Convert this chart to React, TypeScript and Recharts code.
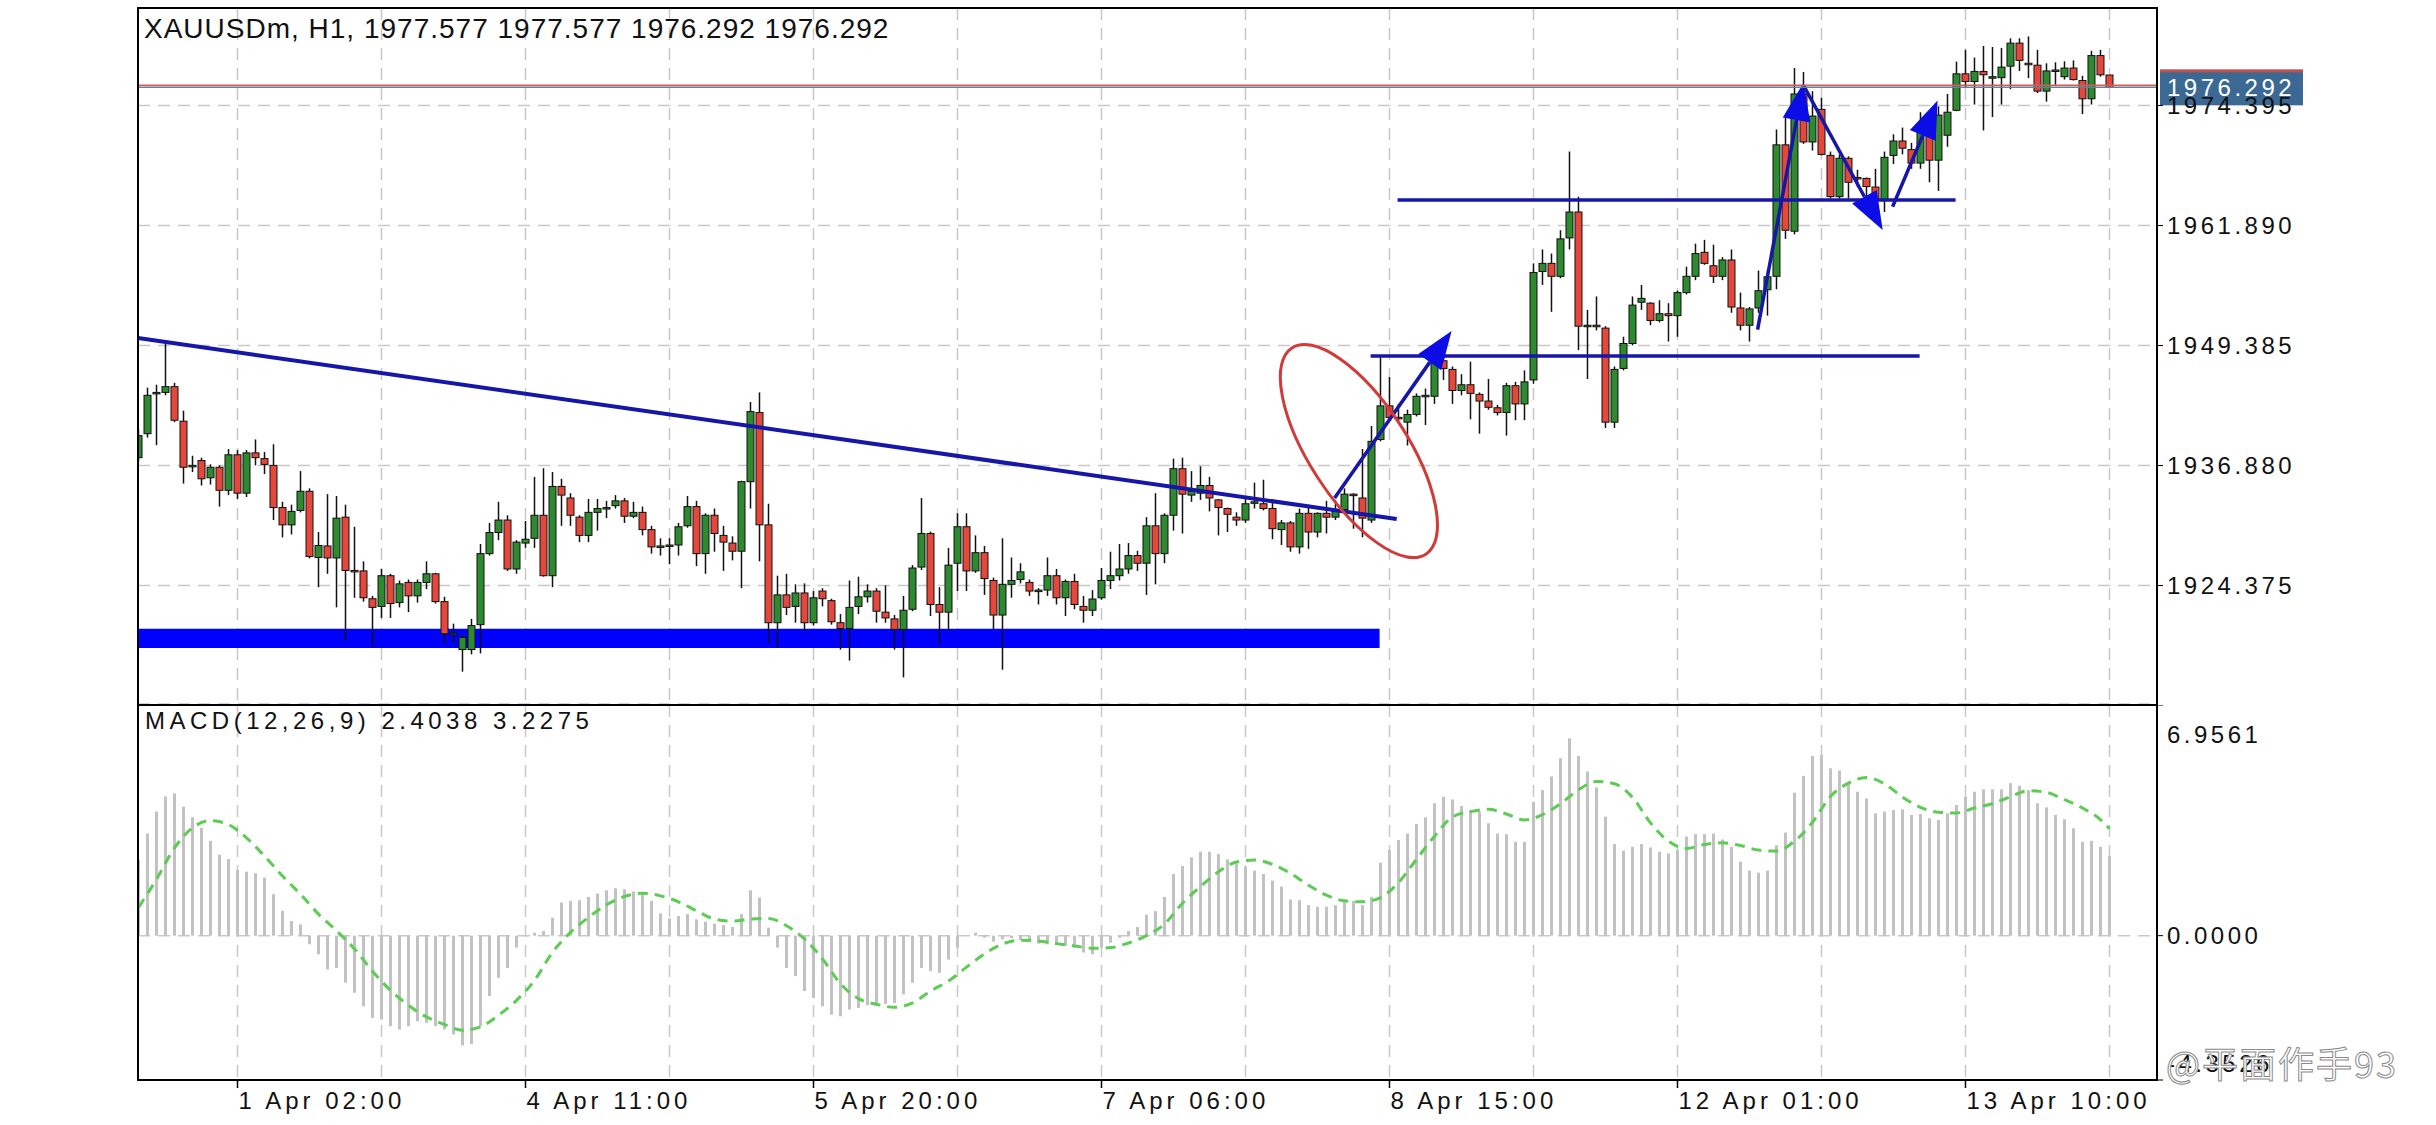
import React from 'react';
import {
  ComposedChart, Bar, Line, XAxis, YAxis, CartesianGrid,
  ReferenceLine, ReferenceArea, ReferenceDot,
} from 'recharts';

const FONT = '"Liberation Sans", Arial, sans-serif';

// XAUUSDm H1 candles (oldest first)
const opens = [
  1937.7, 1940.2, 1944.4, 1944.5, 1945.1, 1941.5, 1936.8, 1937.4, 1935.6, 1936.7,
  1934.3, 1938.0, 1934.0, 1938.2, 1937.6, 1936.9, 1932.5, 1930.7, 1932.2, 1934.2,
  1927.3, 1928.5, 1927.25, 1931.5, 1925.95, 1925.9, 1923.0, 1922.2, 1925.4, 1922.6,
  1924.7, 1923.3, 1924.7, 1925.6, 1922.7, 1919.3, 1917.7, 1917.7, 1920.3, 1927.7,
  1929.9, 1931.2, 1926.1, 1928.8, 1929.3, 1931.7, 1925.4, 1934.7, 1933.5, 1931.5,
  1929.6, 1932.0, 1932.5, 1932.7, 1933.2, 1931.6, 1932.0, 1930.2, 1928.5, 1928.5,
  1928.6, 1930.6, 1932.6, 1927.7, 1931.7, 1929.6, 1928.8, 1927.95, 1935.2, 1942.4,
  1930.7, 1920.5, 1923.4, 1922.2, 1923.6, 1920.5, 1923.8, 1922.8, 1920.5, 1919.9,
  1922.2, 1923.2, 1923.8, 1921.6, 1920.9, 1919.8, 1921.9, 1926.3, 1929.8, 1922.4,
  1921.6, 1926.7, 1930.5, 1925.9, 1927.8, 1924.9, 1921.3, 1924.5, 1925.0, 1924.7,
  1923.9, 1923.9, 1925.4, 1923.1, 1924.8, 1922.2, 1921.8, 1923.1, 1924.9, 1925.4,
  1926.1, 1927.5, 1926.7, 1930.6, 1927.7, 1931.7, 1936.55, 1933.8, 1934.0, 1934.8,
  1933.3, 1932.4, 1931.5, 1931.2, 1933.0, 1932.9, 1932.4, 1930.2, 1930.9, 1928.4,
  1931.9, 1929.95, 1931.9, 1931.5, 1932.3, 1933.9, 1933.5, 1931.2, 1939.6, 1943.1,
  1941.9, 1941.4, 1942.2, 1944.2, 1944.1, 1947.8, 1946.9, 1944.7, 1945.3, 1944.3,
  1943.6, 1942.9, 1942.4, 1945.2, 1943.3, 1945.8, 1957.1, 1957.95, 1956.6, 1960.6,
  1963.3, 1951.4, 1951.5, 1951.2, 1941.4, 1947.0, 1949.6, 1953.9, 1953.8, 1952.0,
  1952.7, 1952.5, 1954.9, 1956.6, 1959.1, 1957.7, 1956.6, 1958.3, 1953.3, 1951.5,
  1953.3, 1955.2, 1956.6, 1970.3, 1961.3, 1975.6, 1970.6, 1974.0, 1969.2, 1964.9,
  1968.9, 1966.9, 1966.8, 1965.9, 1964.55, 1969.2, 1970.7, 1969.8, 1968.4, 1972.1,
  1968.7, 1971.3, 1973.9, 1977.7, 1976.9, 1977.95, 1977.4, 1977.3, 1978.5, 1980.9,
  1978.8, 1978.6, 1975.9, 1978.0, 1977.4, 1978.3, 1977.0, 1975.1, 1979.6, 1977.577,
];

const highs = [
  1940.6, 1945.0, 1945.3, 1949.8, 1945.5, 1942.6, 1937.9, 1937.7, 1937.0, 1936.9,
  1938.6, 1938.5, 1938.5, 1939.6, 1938.3, 1939.1, 1933.1, 1932.8, 1936.3, 1934.5,
  1929.95, 1933.9, 1933.7, 1932.8, 1930.5, 1926.9, 1923.3, 1926.1, 1925.6, 1924.9,
  1925.0, 1925.0, 1926.9, 1925.7, 1923.2, 1920.4, 1919.3, 1920.9, 1928.7, 1930.9,
  1933.1, 1931.7, 1929.1, 1931.1, 1935.7, 1936.6, 1936.2, 1935.5, 1934.0, 1931.7,
  1933.4, 1933.4, 1933.2, 1933.8, 1933.5, 1933.1, 1932.6, 1930.6, 1929.3, 1929.3,
  1930.9, 1933.7, 1933.2, 1931.9, 1932.4, 1930.6, 1929.5, 1935.3, 1943.5, 1944.5,
  1932.9, 1925.4, 1925.6, 1924.5, 1924.6, 1923.8, 1924.1, 1923.0, 1921.4, 1924.9,
  1925.3, 1924.5, 1924.1, 1924.4, 1921.3, 1923.3, 1926.5, 1933.5, 1930.0, 1924.2,
  1928.3, 1931.9, 1931.9, 1929.6, 1928.5, 1925.2, 1929.3, 1927.3, 1926.7, 1925.0,
  1924.1, 1927.3, 1926.1, 1925.0, 1925.6, 1923.3, 1923.9, 1926.2, 1927.9, 1928.7,
  1928.8, 1928.0, 1931.5, 1934.0, 1931.9, 1937.6, 1937.7, 1936.3, 1936.8, 1935.7,
  1933.4, 1932.5, 1932.0, 1933.4, 1935.1, 1935.4, 1933.1, 1931.2, 1931.1, 1932.4,
  1932.8, 1932.0, 1933.2, 1933.3, 1934.5, 1934.0, 1938.6, 1941.0, 1948.2, 1946.1,
  1943.3, 1942.7, 1944.4, 1944.9, 1948.3, 1948.3, 1947.2, 1946.4, 1947.7, 1944.5,
  1945.9, 1943.2, 1945.5, 1945.6, 1946.8, 1957.95, 1959.4, 1958.97, 1961.4, 1969.6,
  1964.9, 1953.1, 1954.5, 1951.4, 1947.2, 1950.3, 1954.5, 1955.7, 1953.9, 1954.1,
  1953.8, 1955.1, 1957.6, 1960.0, 1960.4, 1959.9, 1958.6, 1959.4, 1954.9, 1953.4,
  1957.2, 1957.2, 1971.9, 1973.1, 1978.3, 1977.9, 1975.9, 1975.2, 1969.6, 1969.3,
  1969.1, 1967.7, 1966.9, 1967.8, 1969.6, 1971.4, 1972.1, 1970.5, 1973.7, 1973.5,
  1974.3, 1975.6, 1978.97, 1980.2, 1979.4, 1980.6, 1980.5, 1980.4, 1981.4, 1981.4,
  1981.6, 1980.2, 1978.8, 1978.9, 1979.0, 1979.1, 1977.5, 1980.1, 1980.2, 1977.577,
];

const lows = [
  1937.3, 1939.8, 1939.0, 1944.2, 1941.4, 1935.0, 1936.2, 1934.8, 1934.9, 1932.6,
  1933.8, 1933.4, 1933.6, 1936.9, 1936.0, 1931.2, 1929.4, 1929.7, 1932.0, 1927.2,
  1924.2, 1925.6, 1922.1, 1918.6, 1923.1, 1922.7, 1917.95, 1921.0, 1921.0, 1922.1,
  1921.6, 1922.6, 1924.0, 1922.5, 1918.4, 1918.4, 1915.4, 1917.2, 1917.3, 1927.5,
  1929.1, 1925.9, 1925.6, 1928.3, 1928.3, 1925.3, 1924.2, 1930.6, 1930.6, 1928.9,
  1928.9, 1930.1, 1931.4, 1932.4, 1930.9, 1931.4, 1929.6, 1927.7, 1927.5, 1926.6,
  1927.5, 1930.4, 1926.4, 1925.6, 1927.9, 1925.9, 1927.0, 1924.1, 1932.4, 1926.9,
  1918.4, 1917.95, 1921.3, 1920.5, 1919.6, 1920.2, 1922.2, 1920.3, 1917.7, 1916.55,
  1921.4, 1922.6, 1920.5, 1920.5, 1917.7, 1914.8, 1921.7, 1926.0, 1921.2, 1918.2,
  1919.6, 1923.8, 1923.8, 1925.7, 1923.4, 1919.8, 1915.6, 1923.1, 1924.6, 1923.3,
  1922.4, 1923.3, 1922.4, 1921.2, 1921.9, 1920.5, 1921.2, 1922.9, 1924.0, 1924.9,
  1925.6, 1925.9, 1923.4, 1924.5, 1926.7, 1930.1, 1929.8, 1933.1, 1933.3, 1932.1,
  1929.6, 1929.95, 1930.6, 1930.9, 1932.4, 1932.2, 1929.2, 1928.6, 1927.9, 1927.7,
  1928.2, 1929.4, 1929.8, 1931.2, 1932.2, 1930.3, 1929.4, 1930.9, 1939.4, 1941.7,
  1941.5, 1938.97, 1942.0, 1941.1, 1943.3, 1945.8, 1943.3, 1944.2, 1941.7, 1940.2,
  1942.7, 1942.1, 1940.0, 1941.6, 1941.6, 1945.4, 1955.7, 1952.9, 1956.4, 1959.4,
  1948.9, 1945.9, 1950.97, 1940.8, 1940.8, 1946.8, 1949.4, 1953.1, 1951.5, 1951.8,
  1949.8, 1950.3, 1954.7, 1956.2, 1957.8, 1955.9, 1956.2, 1952.8, 1950.97, 1949.8,
  1952.8, 1952.5, 1955.25, 1960.5, 1960.97, 1970.4, 1969.7, 1969.2, 1964.7, 1964.7,
  1964.7, 1965.9, 1964.9, 1964.2, 1963.3, 1968.3, 1969.3, 1967.8, 1967.8, 1966.4,
  1965.5, 1970.1, 1973.8, 1976.3, 1974.5, 1971.8, 1973.2, 1974.5, 1976.1, 1978.0,
  1977.25, 1975.7, 1974.8, 1976.55, 1977.1, 1977.0, 1973.5, 1974.5, 1977.4, 1976.292,
];

const closes = [
  1940.0, 1944.2, 1944.5, 1945.1, 1941.6, 1936.7, 1936.9, 1935.5, 1936.7, 1934.3,
  1938.0, 1934.0, 1938.2, 1937.7, 1937.0, 1932.5, 1930.7, 1932.1, 1934.2, 1927.4,
  1928.55, 1927.25, 1931.4, 1925.95, 1925.9, 1923.1, 1922.1, 1925.4, 1922.5, 1924.55,
  1923.3, 1924.7, 1925.6, 1922.7, 1919.35, 1919.4, 1918.97, 1920.2, 1927.7, 1929.9,
  1931.2, 1926.1, 1928.9, 1929.2, 1931.7, 1925.4, 1934.7, 1933.8, 1931.7, 1929.6,
  1932.0, 1932.4, 1932.5, 1933.2, 1931.6, 1932.0, 1930.2, 1928.4, 1928.5, 1928.6,
  1930.5, 1932.6, 1927.7, 1931.7, 1929.8, 1928.9, 1927.95, 1935.2, 1942.5, 1930.7,
  1920.5, 1923.4, 1922.1, 1923.6, 1920.5, 1923.1, 1923.0, 1920.6, 1919.9, 1922.1,
  1923.2, 1923.8, 1921.7, 1921.0, 1919.8, 1921.8, 1926.2, 1929.8, 1922.4, 1921.6,
  1926.5, 1930.5, 1925.9, 1927.8, 1925.1, 1921.3, 1924.5, 1924.9, 1925.8, 1923.8,
  1923.9, 1925.4, 1923.1, 1924.8, 1922.4, 1921.8, 1922.97, 1924.9, 1925.4, 1926.1,
  1927.5, 1926.7, 1930.6, 1927.7, 1931.7, 1936.55, 1933.9, 1934.2, 1934.8, 1933.5,
  1932.5, 1931.8, 1931.2, 1932.9, 1933.1, 1932.4, 1930.3, 1930.9, 1928.4, 1931.9,
  1929.95, 1931.9, 1931.5, 1932.1, 1933.9, 1933.8, 1931.4, 1939.4, 1943.1, 1941.9,
  1941.8, 1942.2, 1944.1, 1944.2, 1947.8, 1947.0, 1944.7, 1945.3, 1944.4, 1943.6,
  1942.95, 1942.4, 1945.2, 1943.3, 1945.6, 1957.0, 1957.95, 1956.6, 1960.5, 1963.3,
  1951.4, 1951.5, 1951.4, 1941.4, 1946.9, 1949.6, 1953.6, 1954.3, 1952.0, 1952.7,
  1952.5, 1954.9, 1956.6, 1958.97, 1957.95, 1956.6, 1958.3, 1953.4, 1951.5, 1953.2,
  1955.1, 1956.55, 1970.3, 1961.4, 1975.6, 1970.6, 1973.3, 1969.3, 1964.9, 1968.9,
  1966.4, 1966.8, 1965.95, 1964.7, 1969.0, 1970.7, 1969.95, 1968.4, 1972.1, 1968.7,
  1973.4, 1973.7, 1977.7, 1976.9, 1977.95, 1977.6, 1977.4, 1978.4, 1980.9, 1979.1,
  1978.7, 1975.9, 1978.0, 1978.1, 1978.3, 1977.1, 1975.1, 1979.6, 1977.6, 1976.292,
];

// MACD(12,26,9) histogram (main line), one value per bar
const macdHist = [
  2.28, 3.08, 3.74, 4.2, 4.29, 3.89, 3.57, 3.25, 2.86, 2.44,
  2.31, 1.98, 1.93, 1.88, 1.75, 1.25, 0.75, 0.44, 0.34, -0.26,
  -0.56, -1.02, -0.97, -1.42, -1.72, -2.13, -2.48, -2.53, -2.73, -2.83,
  -2.73, -2.58, -2.63, -2.73, -2.83, -2.98, -3.31, -3.27, -2.73, -1.82,
  -1.27, -0.97, -0.36, -0.01, 0.09, 0.14, 0.54, 1.0, 1.05, 1.07,
  1.17, 1.27, 1.37, 1.43, 1.4, 1.33, 1.25, 1.05, 0.67, 0.52,
  0.59, 0.65, 0.49, 0.42, 0.36, 0.32, 0.26, 0.65, 1.37, 1.15,
  0.24, -0.36, -0.97, -1.22, -1.67, -1.88, -2.13, -2.38, -2.43, -2.23,
  -2.18, -2.1, -2.1, -2.06, -2.03, -1.77, -1.42, -0.97, -1.07, -1.12,
  -0.72, -0.36, 0.0, 0.09, -0.06, -0.18, -0.11, -0.08, -0.14, -0.18,
  -0.24, -0.26, -0.28, -0.31, -0.36, -0.51, -0.56, -0.36, -0.21, -0.06,
  0.14, 0.26, 0.63, 0.74, 1.17, 1.86, 2.1, 2.36, 2.53, 2.53,
  2.46, 2.3, 2.18, 2.08, 1.96, 1.86, 1.66, 1.48, 1.09, 1.07,
  0.92, 0.87, 0.87, 0.92, 1.02, 1.05, 0.92, 1.17, 2.2, 2.58,
  2.88, 3.08, 3.37, 3.57, 3.99, 4.19, 4.11, 3.91, 3.79, 3.74,
  3.39, 3.08, 3.06, 2.83, 2.83, 4.04, 4.39, 4.8, 5.35, 5.95,
  5.42, 4.95, 4.47, 3.59, 2.76, 2.56, 2.68, 2.76, 2.66, 2.53,
  2.48, 2.58, 2.99, 3.06, 3.06, 3.08, 2.9, 2.68, 2.23, 1.96,
  1.9, 1.96, 2.73, 3.11, 4.31, 4.82, 5.42, 5.45, 5.05, 4.98,
  4.64, 4.34, 4.14, 3.69, 3.74, 3.79, 3.81, 3.64, 3.67, 3.54,
  3.49, 3.69, 3.94, 4.19, 4.34, 4.41, 4.41, 4.41, 4.6, 4.52,
  4.39, 3.99, 3.87, 3.64, 3.51, 3.24, 2.83, 2.86, 2.68, 2.4038,
];

// signal line, sampled from the dashed curve at these bars
const signalBars = [
  0, 2, 4, 6, 8, 10, 12, 14, 16, 18, 20, 22, 24, 26, 28, 30, 32, 34, 36, 38,
  40, 42, 44, 46, 48, 50, 52, 54, 56, 58, 60, 62, 64, 66, 68, 70, 72, 74, 76, 78,
  80, 82, 84, 86, 88, 90, 92, 94, 96, 98, 100, 102, 104, 106, 108, 110, 112, 114, 116, 118,
  120, 122, 124, 126, 128, 130, 132, 134, 136, 138, 140, 142, 144, 146, 148, 150, 152, 154, 156, 158,
  160, 162, 164, 166, 168, 170, 172, 174, 176, 178, 180, 182, 184, 186, 188, 190, 192, 194, 196, 198,
  200, 202, 204, 206, 208, 210, 212, 214, 216, 218, 219,
];
const signalValues = [
  0.85, 1.7, 2.65, 3.25, 3.47, 3.35, 2.95, 2.4, 1.8, 1.25, 0.65, 0.15, -0.4, -1.07, -1.65, -2.1, -2.45, -2.68, -2.85, -2.75,
  -2.4, -1.95, -1.35, -0.5, 0.1, 0.55, 0.93, 1.18, 1.28, 1.2, 1.02, 0.75, 0.5, 0.44, 0.5, 0.52, 0.3, -0.1, -0.7, -1.45,
  -1.9, -2.07, -2.16, -2.03, -1.67, -1.37, -0.95, -0.55, -0.25, -0.14, -0.16, -0.24, -0.31, -0.38, -0.36, -0.22, 0.0, 0.35, 0.98, 1.48,
  1.93, 2.22, 2.28, 2.15, 1.88, 1.52, 1.22, 1.05, 1.02, 1.15, 1.6, 2.3, 3.0, 3.58, 3.74, 3.81, 3.67, 3.49, 3.65, 3.98,
  4.4, 4.65, 4.58, 4.17, 3.4, 2.85, 2.63, 2.75, 2.8, 2.72, 2.58, 2.55, 2.85, 3.42, 4.2, 4.6, 4.77, 4.58, 4.18, 3.87,
  3.72, 3.7, 3.85, 3.98, 4.19, 4.37, 4.32, 4.1, 3.85, 3.5, 3.2275,
];

const priceTicks = [1924.375, 1936.88, 1949.385, 1961.89, 1974.395];
const macdTicks = [-4.3526, 0, 6.9561];
const gridBars = [11, 27, 43, 59, 75, 91, 107, 123, 139, 155, 171, 187, 203, 219];
const timeBars = [11, 43, 75, 107, 139, 171, 203];
const timeLabels = ['1 Apr 02:00', '4 Apr 11:00', '5 Apr 20:00', '7 Apr 06:00', '8 Apr 15:00', '12 Apr 01:00', '13 Apr 10:00'];

const askPrice = 1976.52;

const data = opens.map((o, i) => {
  const k = signalBars.indexOf(i);
  return {
    i, o, h: highs[i], l: lows[i], c: closes[i],
    range: [lows[i], highs[i]],
    hist: macdHist[i],
    sig: k >= 0 ? signalValues[k] : null,
  };
});

const X_DOMAIN: [number, number] = [-0.056, 224.28];
const LINE_BLUE = '#1616a8';
const HEAD_BLUE = '#0c0ce6';

const Candle = (props: any) => {
  const { x, y, width, height, payload } = props;
  if (!payload || x == null || y == null) return <g />;
  const { o, h, l, c } = payload;
  const k = height / Math.max(h - l, 1e-6);
  const py = (v: number) => y + (h - v) * k;
  const cx = x + width / 2;
  const top = py(Math.max(o, c));
  const bh = Math.max(py(Math.min(o, c)) - top, 1.5);
  return (
    <g>
      <line x1={cx} x2={cx} y1={y} y2={y + height} stroke="#111" strokeWidth={1.5} />
      <rect x={cx - 3.5} y={top} width={7} height={bh}
        fill={c >= o ? '#2e8a2e' : '#e5483a'} stroke="#111" strokeWidth={1} />
    </g>
  );
};

const Arrow = (props: any) => {
  const { x1, y1, x2, y2 } = props;
  if ([x1, y1, x2, y2].some((v) => v == null || Number.isNaN(v))) return <g />;
  const a = Math.atan2(y2 - y1, x2 - x1);
  const len = 38;
  const hw = 14;
  const bx = x2 - len * Math.cos(a);
  const by = y2 - len * Math.sin(a);
  const nx = -Math.sin(a) * hw;
  const ny = Math.cos(a) * hw;
  return (
    <g>
      <line x1={x1} y1={y1} x2={bx} y2={by} stroke={LINE_BLUE} strokeWidth={3.5} />
      <polygon points={`${x2},${y2} ${bx + nx},${by + ny} ${bx - nx},${by - ny}`} fill={HEAD_BLUE} />
    </g>
  );
};

const PriceTag = (props: any) => {
  const vb = props.viewBox;
  if (!vb) return <g />;
  const x = vb.x + vb.width + 3;
  const y = vb.y;
  return (
    <g>
      <rect x={x} y={y - 17} width={143} height={35} fill="#3c6994" />
      <rect x={x} y={y - 18} width={143} height={3} fill="#c0504d" />
      <text x={x + 7} y={y} dy="0.36em" fill="#fff" fontSize={24} letterSpacing={3.5} fontFamily={FONT}>
        {props.price.toFixed(3)}
      </text>
    </g>
  );
};

const PriceTick = (p: any) => (
  <text x={p.x} y={p.y} dy="0.36em" fontSize={24} letterSpacing={3.5} fill="#111" fontFamily={FONT}>
    {p.payload.value.toFixed(3)}
  </text>
);

const MacdTick = (p: any) => {
  const v = p.payload.value;
  const shift = v > 6 ? 20 : v < -4 ? -17 : 0;
  return (
    <text x={p.x} y={p.y + shift} dy="0.36em" fontSize={24} letterSpacing={3.5} fill="#111" fontFamily={FONT}>
      {v.toFixed(4)}
    </text>
  );
};

const TimeTick = (p: any) => {
  const k = timeBars.indexOf(p.payload.value);
  if (k < 0) return <g />;
  return (
    <g>
      <line x1={p.x} x2={p.x} y1={p.y} y2={p.y + 8} stroke="#000" strokeWidth={1.5} />
      <text x={p.x + 1} y={p.y + 29} fontSize={24} letterSpacing={4} fill="#111" fontFamily={FONT}>
        {timeLabels[k]}
      </text>
    </g>
  );
};

export default function App() {
  const last = closes[closes.length - 1];
  return (
    <div style={{ position: 'absolute', left: 0, top: 0, width: 2436, height: 1125, background: '#fff', overflow: 'hidden', fontFamily: FONT }}>
      <div style={{ position: 'absolute', left: 0, top: 0 }}>
        <ComposedChart width={2436} height={704} data={data} margin={{ top: 8, right: 0, bottom: 0, left: 138 }}>
          <CartesianGrid stroke="#c8c8c8" strokeDasharray="12 8" strokeWidth={1.5} />
          <XAxis type="number" dataKey="i" domain={X_DOMAIN} allowDataOverflow ticks={gridBars} hide />
          <YAxis orientation="right" width={279} domain={[1912.03, 1984.56]} allowDataOverflow
            ticks={priceTicks} tick={<PriceTick />} tickSize={6} tickMargin={4}
            tickLine={{ stroke: '#000' }} axisLine={false} />
          <ReferenceArea x1={-0.056} x2={137.9} y1={1917.86} y2={1919.88} fill="#0000ff" fillOpacity={1} stroke="none" />
          <Bar dataKey="range" barSize={7} shape={<Candle />} isAnimationActive={false} />
          <ReferenceLine segment={[{ x: -0.056, y: 1950.17 }, { x: 139.8, y: 1931.3 }]} stroke={LINE_BLUE} strokeWidth={4} />
          <ReferenceLine segment={[{ x: 136.9, y: 1948.29 }, { x: 197.9, y: 1948.29 }]} stroke={LINE_BLUE} strokeWidth={3.5} />
          <ReferenceLine segment={[{ x: 139.9, y: 1964.55 }, { x: 201.9, y: 1964.55 }]} stroke={LINE_BLUE} strokeWidth={3.5} />
          <ReferenceDot x={135.6} y={1938.39} r={1}
            shape={(p: any) => (
              <ellipse cx={p.cx} cy={p.cy} rx={123} ry={49} transform={`rotate(57 ${p.cx} ${p.cy})`}
                fill="none" stroke="#d23a3a" strokeWidth={3} />
            )} />
          <ReferenceLine segment={[{ x: 132.9, y: 1933.49 }, { x: 145.9, y: 1950.9 }]} shape={(p: any) => <Arrow {...p} />} />
          <ReferenceLine segment={[{ x: 179.9, y: 1951.05 }, { x: 185.0, y: 1976.78 }]} shape={(p: any) => <Arrow {...p} />} />
          <ReferenceLine segment={[{ x: 185.0, y: 1976.5 }, { x: 193.8, y: 1961.42 }]} shape={(p: any) => <Arrow {...p} />} />
          <ReferenceLine segment={[{ x: 194.9, y: 1963.85 }, { x: 199.9, y: 1974.93 }]} shape={(p: any) => <Arrow {...p} />} />
          <ReferenceLine y={askPrice} stroke="#c9605c" strokeWidth={1.5} />
          <ReferenceLine y={last} stroke="#6f7f8f" strokeWidth={1.5} label={<PriceTag price={last} />} />
        </ComposedChart>
      </div>

      <div style={{ position: 'absolute', left: 0, top: 705 }}>
        <ComposedChart width={2436} height={420} data={data} margin={{ top: 0, right: 0, bottom: 0, left: 138 }}>
          <CartesianGrid stroke="#c8c8c8" strokeDasharray="12 8" strokeWidth={1.5} />
          <XAxis type="number" dataKey="i" domain={X_DOMAIN} allowDataOverflow ticks={gridBars}
            height={45} tick={<TimeTick />} tickSize={0} tickMargin={0} tickLine={false} axisLine={false} interval={0} />
          <YAxis orientation="right" width={279} domain={[-4.3526, 6.9561]} allowDataOverflow
            ticks={macdTicks} tick={<MacdTick />} tickSize={6} tickMargin={4}
            tickLine={{ stroke: '#000' }} axisLine={false} />
          <Bar dataKey="hist" barSize={3} fill="#c2c2c2" isAnimationActive={false} />
          <Line dataKey="sig" type="monotone" connectNulls dot={false} stroke="#5ccc55"
            strokeWidth={3} strokeDasharray="10 7" isAnimationActive={false} />
        </ComposedChart>
      </div>

      {/* frame */}
      <div style={{ position: 'absolute', left: 137, top: 7, width: 2021, height: 1074, border: '2px solid #000', boxSizing: 'border-box', pointerEvents: 'none' }} />
      <div style={{ position: 'absolute', left: 137, top: 704, width: 2021, height: 2, background: '#000' }} />

      <div style={{ position: 'absolute', left: 144, top: 14, fontSize: 28, lineHeight: '30px', letterSpacing: 1, color: '#111', whiteSpace: 'nowrap' }}>
        XAUUSDm, H1, 1977.577 1977.577 1976.292 1976.292
      </div>
      <div style={{ position: 'absolute', left: 145, top: 707, fontSize: 24, lineHeight: '28px', letterSpacing: 4.5, color: '#111', whiteSpace: 'nowrap' }}>
        MACD(12,26,9) 2.4038 3.2275
      </div>
      <div style={{
        position: 'absolute', left: 2166, top: 1040, fontSize: 36, lineHeight: '44px', letterSpacing: 2,
        fontFamily: '"Noto Sans CJK SC", sans-serif', color: '#fff', WebkitTextStroke: '1px #8a8a8a', whiteSpace: 'nowrap',
      }}>
        @平面作手93
      </div>
    </div>
  );
}
